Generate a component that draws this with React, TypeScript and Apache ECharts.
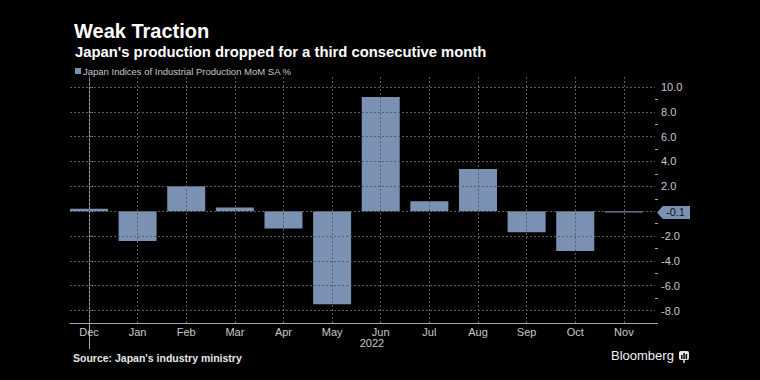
import React, { useEffect, useRef } from "react";
import * as echarts from "echarts";

const months = ["Dec", "Jan", "Feb", "Mar", "Apr", "May", "Jun", "Jul", "Aug", "Sep", "Oct", "Nov"];
const values = [0.2, -2.4, 2.0, 0.3, -1.4, -7.5, 9.2, 0.8, 3.4, -1.7, -3.2, -0.1];
const yLabelValues = [-8, -6, -4, -2, 2, 4, 6, 8, 10];
const yMajorTicks = [-8, -6, -4, -2, 0, 2, 4, 6, 8, 10];
const yMinorValues = [-9, -7, -5, -3, -1, 1, 3, 5, 7, 9];
const seriesName = "Japan Indices of Industrial Production MoM SA %";
const lastLabel = "-0.1";
const yearLabel = "2022";
const yearPosition = 5.82;

const X_MIN = -0.39;
const X_MAX = 11.64;
const Y_MIN = -9;
const Y_MAX = 10.8;

const BAR = "#7a91b4";
const AXIS = "#a8a8a8";
const LABEL = "#c8c8c8";
const GRID = "#5c5c5c";
const FONT = "'Liberation Sans', Arial, sans-serif";

export default function App() {
  const ref = useRef<HTMLDivElement>(null);
  useEffect(() => {
    document.body.style.margin = "0";
    document.body.style.background = "#000";
    const chart = echarts.init(ref.current!, null, { renderer: "svg" });
    const idx = months.map((_, i) => i);
    const gridStyle = { color: GRID, type: [2, 2] as any, width: 1 };
    chart.setOption({
      animation: false,
      backgroundColor: "#000",
      title: [
        {
          text: "Weak Traction",
          left: 69,
          top: 16,
          textStyle: { color: "#fff", fontSize: 20, fontWeight: "bold", fontFamily: FONT },
        },
        {
          text: "Japan's production dropped for a third consecutive month",
          left: 70,
          top: 39,
          textStyle: { color: "#fff", fontSize: 14.8, fontWeight: "bold", fontFamily: FONT },
        },
      ],
      legend: {
        left: 70,
        top: 61,
        icon: "rect",
        itemWidth: 6,
        itemHeight: 6,
        textStyle: { color: LABEL, fontSize: 9.5, fontFamily: FONT, padding: [0, 0, 0, -3] },
        data: [seriesName],
      },
      grid: { left: 70, right: 105, top: 77, bottom: 57 },
      xAxis: {
        type: "value",
        min: X_MIN,
        max: X_MAX,
        axisLine: { show: true, onZero: false, lineStyle: { color: AXIS, width: 1 } },
        axisTick: { show: false, customValues: idx },
        axisLabel: {
          customValues: idx,
          formatter: (v: number) => months[Math.round(v)],
          color: LABEL,
          fontSize: 11,
          fontFamily: FONT,
          margin: 3,
        },
        splitLine: { show: false },
      },
      yAxis: [
        {
          type: "value",
          position: "right",
          min: Y_MIN,
          max: Y_MAX,
          axisLine: { show: true, lineStyle: { color: AXIS, width: 1 } },
          axisTick: { show: true, inside: false, length: 4, customValues: yMajorTicks, lineStyle: { color: AXIS } },
          axisLabel: {
            customValues: yLabelValues,
            formatter: (v: number) => v.toFixed(1),
            color: LABEL,
            fontSize: 11,
            fontFamily: FONT,
            margin: 6,
          },
          splitLine: { show: false },
        },
        {
          type: "value",
          position: "right",
          offset: 0,
          min: Y_MIN,
          max: Y_MAX,
          axisLine: { show: false },
          axisTick: { show: true, inside: false, length: 3, customValues: yMinorValues, lineStyle: { color: AXIS } },
          axisLabel: { show: false },
          splitLine: { show: false },
        },
      ],
      series: [
        {
          name: "grid",
          type: "line",
          xAxisIndex: 0,
          yAxisIndex: 0,
          z: 1,
          data: [],
          silent: true,
          markLine: {
            silent: true,
            symbol: ["none", "none"],
            label: { show: false },
            lineStyle: gridStyle,
            data: [
              ...idx.map((i) => ({ xAxis: i })),
              ...yMajorTicks.map((v) => ({ yAxis: v })),
            ],
          },
        },
        {
          name: seriesName,
          type: "bar",
          xAxisIndex: 0,
          yAxisIndex: 0,
          z: 3,
          barWidth: 38,
          itemStyle: { color: BAR },
          data: values.map((v, i) => [i, v]),
          markPoint: {
            silent: true,
            symbol: "path://M0,6 L6,0 L34,0 L34,12 L6,12 Z",
            symbolSize: [33, 13],
            symbolKeepAspect: false,
            symbolOffset: [18.5, 0],
            itemStyle: { color: BAR },
            label: {
              show: true,
              formatter: lastLabel,
              color: "#111",
              fontSize: 11,
              fontFamily: FONT,
              offset: [2, 0],
            },
            data: [{ coord: [X_MAX, values[values.length - 1]] }],
          },
        },
      ],
    });

    const x0 = chart.convertToPixel({ xAxisIndex: 0 }, 0) as number;
    const xYear = chart.convertToPixel({ xAxisIndex: 0 }, yearPosition) as number;
    const yBottom = chart.convertToPixel({ yAxisIndex: 0 }, Y_MIN) as number;

    chart.setOption({
      graphic: [
        {
          type: "rect",
          left: Math.round(x0),
          top: Math.round(yBottom),
          shape: { x: 0, y: 0, width: 1, height: 26 },
          style: { fill: AXIS },
        },
        {
          type: "text",
          x: xYear,
          y: yBottom + 20,
          style: {
            text: yearLabel,
            fill: LABEL,
            fontSize: 11,
            fontFamily: FONT,
            align: "center",
            verticalAlign: "middle",
          },
        },
        {
          type: "text",
          left: 73,
          top: 352,
          style: {
            text: "Source: Japan's industry ministry",
            fill: "#e6e6e6",
            fontSize: 10.5,
            fontWeight: "bold",
            fontFamily: FONT,
          },
        },
        {
          type: "text",
          left: 611,
          top: 349,
          style: {
            text: "Bloomberg",
            fill: "#f0f0f0",
            fontSize: 13,
            fontFamily: FONT,
          },
        },
        {
          type: "group",
          left: 679,
          top: 351,
          children: [
            { type: "rect", shape: { x: 0, y: 0, width: 10, height: 9, r: 2 }, style: { fill: "#e8e8e8" } },
            { type: "rect", shape: { x: 2, y: 4, width: 1.5, height: 4 }, style: { fill: "#000" } },
            { type: "rect", shape: { x: 4.3, y: 2, width: 1.5, height: 6 }, style: { fill: "#000" } },
            { type: "rect", shape: { x: 6.6, y: 3, width: 1.5, height: 5 }, style: { fill: "#000" } },
            { type: "rect", shape: { x: 4.3, y: 9, width: 1.5, height: 3 }, style: { fill: "#e8e8e8" } },
          ],
        },
      ],
    });
    return () => chart.dispose();
  }, []);
  return <div ref={ref} style={{ width: 760, height: 380, background: "#000" }} />;
}
